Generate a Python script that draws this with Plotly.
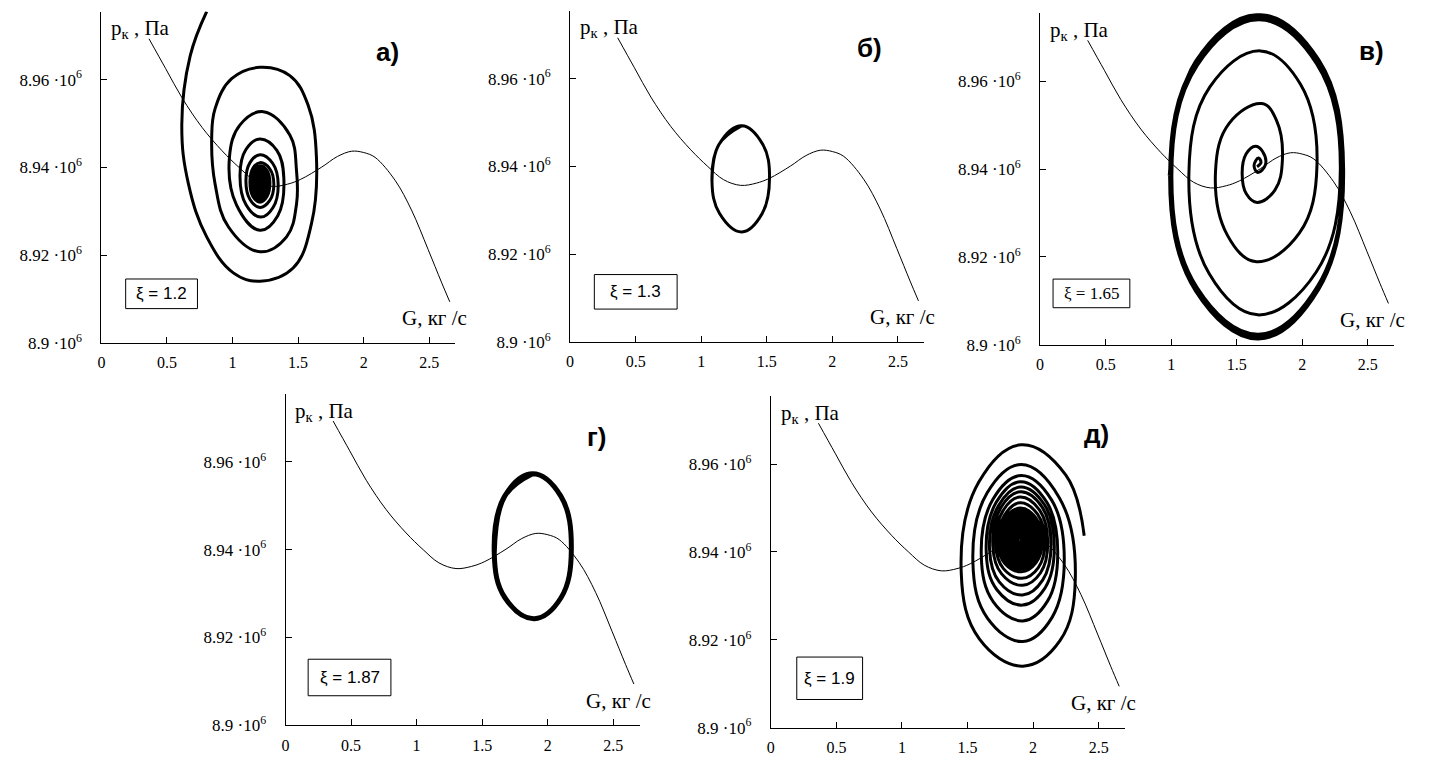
import plotly.graph_objects as go

# ---------------- data ----------------
# static characteristic p_k(G), identical in all five panels
G_CURVE = [0.363, 0.490, 0.616, 0.768, 0.920, 1.050, 1.170, 1.300, 1.420, 1.520, 1.681,
           1.800, 1.909, 2.000, 2.087, 2.239, 2.365, 2.492, 2.593, 2.657]
P_CURVE = [8.9693e6, 8.9625e6, 8.9558e6, 8.9491e6, 8.9438e6, 8.9400e6, 8.9370e6, 8.9357e6,
           8.9362e6, 8.9373e6, 8.9401e6, 8.9425e6, 8.9437e6, 8.9434e6, 8.9423e6, 8.9371e6,
           8.9303e6, 8.9213e6, 8.9139e6, 8.9094e6]

# phase trajectories, (G, p_k) points
# а) xi = 1.2 : converging spiral
A_PTS = [(0.803, 8.9755e6), (0.677, 8.9654e6), (0.613, 8.9497e6), (0.664, 8.9362e6),
         (0.803, 8.9242e6), (1.006, 8.9160e6), (1.209, 8.9141e6), (1.462, 8.9171e6),
         (1.602, 8.9272e6), (1.640, 8.9422e6), (1.576, 8.9542e6), (1.437, 8.9609e6),
         (1.209, 8.9628e6), (0.993, 8.9602e6), (0.867, 8.9534e6), (0.841, 8.9467e6),
         (0.867, 8.9362e6), (0.968, 8.9265e6), (1.209, 8.9208e6), (1.412, 8.9242e6),
         (1.488, 8.9317e6), (1.488, 8.9392e6), (1.437, 8.9474e6),
         (1.234, 8.9527e6), (1.057, 8.9497e6), (0.976, 8.9422e6), (1.030, 8.9315e6),
         (1.209, 8.9257e6), (1.345, 8.9290e6), (1.391, 8.9377e6), (1.338, 8.9439e6),
         (1.209, 8.9465e6), (1.102, 8.9441e6), (1.057, 8.9384e6), (1.103, 8.9315e6),
         (1.214, 8.9287e6), (1.309, 8.9309e6), (1.348, 8.9362e6), (1.307, 8.9409e6),
         (1.209, 8.9429e6), (1.133, 8.9411e6), (1.102, 8.9369e6), (1.133, 8.9327e6),
         (1.209, 8.9309e6), (1.284, 8.9325e6), (1.315, 8.9362e6), (1.284, 8.9397e6),
         (1.209, 8.9411e6), (1.155, 8.9398e6), (1.133, 8.9368e6), (1.155, 8.9334e6),
         (1.209, 8.9321e6), (1.263, 8.9334e6), (1.285, 8.9366e6), (1.263, 8.9393e6),
         (1.209, 8.9404e6), (1.164, 8.9393e6), (1.145, 8.9367e6), (1.164, 8.9339e6),
         (1.209, 8.9327e6), (1.256, 8.9338e6), (1.275, 8.9366e6), (1.256, 8.9389e6),
         (1.209, 8.9398e6), (1.172, 8.9389e6), (1.157, 8.9367e6), (1.172, 8.9342e6),
         (1.209, 8.9332e6), (1.249, 8.9342e6), (1.265, 8.9366e6), (1.249, 8.9385e6),
         (1.209, 8.9393e6), (1.180, 8.9385e6), (1.168, 8.9366e6), (1.180, 8.9345e6),
         (1.209, 8.9337e6), (1.242, 8.9345e6), (1.255, 8.9366e6), (1.242, 8.9382e6),
         (1.209, 8.9388e6), (1.187, 8.9382e6), (1.178, 8.9366e6), (1.187, 8.9349e6),
         (1.209, 8.9342e6), (1.234, 8.9349e6), (1.245, 8.9366e6), (1.234, 8.9378e6),
         (1.209, 8.9383e6), (1.188, 8.9366e6), (1.209, 8.9347e6), (1.235, 8.9366e6),
         (1.209, 8.9378e6), (1.197, 8.9366e6), (1.209, 8.9352e6), (1.225, 8.9366e6),
         (1.209, 8.9373e6), (1.203, 8.9366e6), (1.209, 8.9358e6), (1.215, 8.9366e6),
         (1.209, 8.9366e6)]

# б) xi = 1.3 : small limit cycle
B_PTS = [(1.310, 8.9493e6), (1.135, 8.9450e6), (1.082, 8.9367e6), (1.140, 8.9293e6),
         (1.310, 8.9251e6), (1.465, 8.9293e6), (1.521, 8.9375e6), (1.470, 8.9450e6),
         (1.310, 8.9493e6), (1.135, 8.9450e6), (1.082, 8.9367e6)]

# в) xi = 1.65 : diverging spiral onto a large cycle
C_PTS = [(1.655, 8.9405e6), (1.685, 8.9415e6), (1.665, 8.9425e6), (1.632, 8.9408e6),
         (1.660, 8.9392e6), (1.719, 8.9410e6), (1.697, 8.9440e6),
         (1.643, 8.9452e6), (1.571, 8.9434e6), (1.541, 8.9390e6), (1.574, 8.9343e6),
         (1.655, 8.9324e6), (1.791, 8.9352e6), (1.848, 8.9420e6), (1.803, 8.9511e6),
         (1.693, 8.9549e6), (1.442, 8.9504e6), (1.338, 8.9395e6), (1.429, 8.9249e6),
         (1.650, 8.9189e6), (1.977, 8.9254e6), (2.112, 8.9410e6), (1.986, 8.9593e6),
         (1.681, 8.9669e6), (1.295, 8.9587e6), (1.135, 8.9390e6), (1.289, 8.9162e6),
         (1.660, 8.9068e6), (2.105, 8.9165e6), (2.290, 8.9400e6), (2.108, 8.9640e6),
         (1.668, 8.9740e6), (1.199, 8.9636e6), (1.005, 8.9385e6), (1.198, 8.9130e6),
         (1.665, 8.9024e6), (2.117, 8.9134e6), (2.305, 8.9400e6), (2.118, 8.9645e6),
         (1.668, 8.9746e6), (1.191, 8.9640e6), (0.993, 8.9385e6), (1.190, 8.9126e6),
         (1.665, 8.9018e6), (2.122, 8.9130e6), (2.312, 8.9400e6), (2.123, 8.9647e6),
         (1.668, 8.9750e6), (1.187, 8.9643e6), (0.988, 8.9385e6), (1.186, 8.9122e6),
         (1.665, 8.9013e6), (2.125, 8.9126e6), (2.315, 8.9400e6), (2.125, 8.9649e6),
         (1.668, 8.9752e6), (1.185, 8.9645e6), (0.985, 8.9385e6)]

# г) xi = 1.87 : limit cycle around the maximum
D_PTS = [(1.884, 8.9573e6), (1.672, 8.9522e6), (1.592, 8.9393e6), (1.675, 8.9290e6),
         (1.897, 8.9243e6), (2.100, 8.9290e6), (2.180, 8.9401e6), (2.100, 8.9522e6),
         (1.884, 8.9573e6), (1.672, 8.9522e6), (1.592, 8.9393e6)]

# д) xi = 1.9 : converging spiral
E_PTS = [(2.390, 8.9437e6), (2.250, 8.9575e6),
         (1.909, 8.9644e6), (1.586, 8.9559e6), (1.452, 8.9353e6), (1.590, 8.9202e6),
         (1.922, 8.9140e6), (2.205, 8.9198e6), (2.322, 8.9338e6), (2.201, 8.9523e6),
         (1.909, 8.9599e6), (1.649, 8.9534e6), (1.541, 8.9376e6), (1.653, 8.9249e6),
         (1.922, 8.9196e6), (2.145, 8.9251e6), (2.238, 8.9383e6), (2.142, 8.9518e6),
         (1.909, 8.9574e6), (1.694, 8.9520e6), (1.605, 8.9391e6), (1.698, 8.9286e6),
         (1.922, 8.9243e6), (2.110, 8.9288e6), (2.188, 8.9398e6), (2.105, 8.9513e6),
         (1.904, 8.9560e6), (1.719, 8.9513e6), (1.643, 8.9398e6), (1.724, 8.9314e6),
         (1.920, 8.9279e6), (2.091, 8.9318e6), (2.162, 8.9413e6), (2.086, 8.9508e6),
         (1.904, 8.9548e6), (1.737, 8.9506e6), (1.668, 8.9406e6), (1.742, 8.9332e6),
         (1.920, 8.9302e6), (2.073, 8.9336e6), (2.137, 8.9417e6), (2.069, 8.9502e6),
         (1.904, 8.9537e6), (1.755, 8.9501e6), (1.693, 8.9413e6), (1.760, 8.9350e6),
         (1.920, 8.9324e6), (2.056, 8.9352e6), (2.112, 8.9421e6), (2.050, 8.9495e6),
         (1.900, 8.9525e6), (1.769, 8.9493e6), (1.715, 8.9416e6), (1.774, 8.9362e6),
         (1.915, 8.9340e6), (2.039, 8.9364e6), (2.090, 8.9423e6), (2.034, 8.9486e6),
         (1.900, 8.9512e6), (1.783, 8.9484e6), (1.735, 8.9418e6), (1.786, 8.9373e6),
         (1.910, 8.9355e6), (2.023, 8.9376e6), (2.070, 8.9425e6), (2.020, 8.9478e6),
         (1.900, 8.9500e6), (1.790, 8.9477e6), (1.745, 8.9420e6), (1.792, 8.9379e6),
         (1.905, 8.9362e6), (2.015, 8.9381e6), (2.060, 8.9426e6), (2.013, 8.9474e6),
         (1.900, 8.9494e6), (1.797, 8.9473e6), (1.755, 8.9421e6), (1.799, 8.9384e6),
         (1.905, 8.9368e6), (2.008, 8.9385e6), (2.050, 8.9426e6), (2.006, 8.9470e6),
         (1.900, 8.9488e6), (1.805, 8.9469e6), (1.765, 8.9422e6), (1.805, 8.9388e6),
         (1.902, 8.9374e6), (2.000, 8.9390e6), (2.040, 8.9427e6), (1.999, 8.9466e6),
         (1.900, 8.9482e6), (1.812, 8.9464e6), (1.775, 8.9422e6), (1.812, 8.9392e6),
         (1.902, 8.9380e6), (1.992, 8.9394e6), (2.030, 8.9427e6), (1.992, 8.9462e6),
         (1.900, 8.9476e6), (1.819, 8.9460e6), (1.785, 8.9423e6), (1.819, 8.9396e6),
         (1.900, 8.9385e6), (1.985, 8.9397e6), (2.020, 8.9427e6), (1.985, 8.9457e6),
         (1.900, 8.9470e6), (1.826, 8.9457e6), (1.795, 8.9424e6), (1.826, 8.9400e6),
         (1.900, 8.9390e6), (1.978, 8.9401e6), (2.010, 8.9428e6), (1.978, 8.9454e6),
         (1.900, 8.9465e6), (1.833, 8.9453e6), (1.805, 8.9424e6), (1.833, 8.9403e6),
         (1.900, 8.9394e6), (1.971, 8.9404e6), (2.000, 8.9428e6), (1.971, 8.9451e6),
         (1.900, 8.9460e6), (1.840, 8.9450e6), (1.815, 8.9425e6), (1.840, 8.9406e6),
         (1.900, 8.9398e6), (1.964, 8.9407e6), (1.990, 8.9428e6), (1.964, 8.9447e6),
         (1.900, 8.9455e6), (1.847, 8.9446e6), (1.825, 8.9425e6), (1.847, 8.9409e6),
         (1.900, 8.9402e6), (1.957, 8.9410e6), (1.980, 8.9428e6), (1.957, 8.9444e6),
         (1.900, 8.9450e6), (1.854, 8.9443e6), (1.835, 8.9426e6), (1.854, 8.9412e6),
         (1.900, 8.9406e6), (1.949, 8.9412e6), (1.970, 8.9428e6), (1.949, 8.9441e6),
         (1.900, 8.9446e6), (1.861, 8.9440e6), (1.845, 8.9426e6), (1.861, 8.9415e6),
         (1.900, 8.9410e6), (1.942, 8.9415e6), (1.960, 8.9428e6), (1.942, 8.9438e6),
         (1.900, 8.9442e6), (1.868, 8.9438e6), (1.855, 8.9427e6), (1.868, 8.9417e6),
         (1.900, 8.9413e6), (1.935, 8.9417e6), (1.950, 8.9428e6), (1.935, 8.9436e6),
         (1.900, 8.9439e6), (1.865, 8.9427e6), (1.900, 8.9416e6), (1.940, 8.9428e6),
         (1.900, 8.9436e6), (1.875, 8.9427e6), (1.900, 8.9419e6), (1.930, 8.9428e6),
         (1.900, 8.9433e6), (1.885, 8.9428e6), (1.900, 8.9422e6), (1.920, 8.9428e6),
         (1.900, 8.9431e6), (1.892, 8.9428e6), (1.900, 8.9425e6), (1.908, 8.9428e6),
         (1.900, 8.9428e6)]

XI_VALUES = ["1.2", "1.3", "1.65", "1.87", "1.9"]
PANEL_LETTERS = ["а)", "б)", "в)", "г)", "д)"]
X_TICKS = [0, 0.5, 1, 1.5, 2, 2.5]
X_TICK_TEXT = ["0", "0.5", "1", "1.5", "2", "2.5"]
Y_TICKS = [8.90e6, 8.92e6, 8.94e6, 8.96e6]
Y_TICK_TEXT = ["8.9 ·10<sup>6</sup>", "8.92 ·10<sup>6</sup>",
               "8.94 ·10<sup>6</sup>", "8.96 ·10<sup>6</sup>"]
Y_LABEL = "p<sub>к</sub> , Па"
X_LABEL = "G, кг /с"

TRAJECTORIES = [A_PTS, B_PTS, C_PTS, D_PTS, E_PTS]

# ---------------- layout (pixels) ----------------
W, H = 1429, 762
PLOT_W, PLOT_H = 355, 336
X_RANGE = [0, 2.7]
Y_RANGE = [8.9e6, 8.9755e6]
PANEL_POS = [(97.7, 347.7), (567.7, 346.7), (1039.0, 349.3), (282.3, 735.0), (769.0, 737.3)]
LETTER_OFF = [(273, 295), (286, 298), (318, 298), (300, 292.5), (312, 298)]
BOX_GEOM = [(24.3, 96.3, 50, 30), (24.3, 107.3, 51, 35), (13, 90, 52, 29),
            (22.7, 105.7, 48.5, 37), (26, 92, 50, 43)]
SERIF = "Liberation Serif, Times New Roman, serif"
SANS = "Liberation Sans, Arial, sans-serif"
BOX_FONT = [SANS, SANS, SERIF, SANS, SANS]
TRAJ_WIDTH = [3, 3, 3, 5, 3]


def px(x):
    return x / W


def py(y):
    return 1 - y / H


fig = go.Figure()
layout = dict(width=W, height=H, margin=dict(l=0, r=0, t=0, b=0),
              paper_bgcolor="white", plot_bgcolor="white", showlegend=False)
annotations = []
shapes = []

for i in range(5):
    sfx = "" if i == 0 else str(i + 1)
    x0, yb = PANEL_POS[i]
    layout["xaxis" + sfx] = dict(
        domain=[px(x0), px(x0 + PLOT_W)], range=X_RANGE, anchor="y" + sfx,
        tickvals=X_TICKS, ticktext=X_TICK_TEXT, ticks="inside", ticklen=6,
        tickcolor="black", showline=True, linecolor="black", linewidth=1,
        showgrid=False, zeroline=False, ticklabelstandoff=5,
        tickfont=dict(family=SERIF, size=16, color="black"))
    layout["yaxis" + sfx] = dict(
        domain=[py(yb), py(yb - PLOT_H)], range=Y_RANGE, anchor="x" + sfx,
        tickvals=Y_TICKS, ticktext=Y_TICK_TEXT, ticks="inside", ticklen=6,
        tickcolor="black", showline=True, linecolor="black", linewidth=1,
        showgrid=False, zeroline=False, ticklabelstandoff=15,
        tickfont=dict(family=SERIF, size=17, color="black"))

    pts = TRAJECTORIES[i]
    fig.add_trace(go.Scatter(
        x=[p[0] for p in pts], y=[p[1] for p in pts], mode="lines",
        xaxis="x" + sfx, yaxis="y" + sfx,
        line=dict(color="black", width=TRAJ_WIDTH[i], shape="spline", smoothing=1.15),
        hoverinfo="skip"))
    fig.add_trace(go.Scatter(
        x=G_CURVE, y=P_CURVE, mode="lines", xaxis="x" + sfx, yaxis="y" + sfx,
        line=dict(color="black", width=1, shape="spline", smoothing=1.0),
        hoverinfo="skip"))

    # axis captions
    annotations.append(dict(xref="paper", yref="paper", x=px(x0 + 8), y=py(yb - 318),
                            xanchor="left", yanchor="middle", showarrow=False,
                            text=Y_LABEL, font=dict(family=SERIF, size=21, color="black")))
    annotations.append(dict(xref="paper", yref="paper", x=px(x0 + 299), y=py(yb - 25),
                            xanchor="left", yanchor="middle", showarrow=False,
                            text=X_LABEL, font=dict(family=SERIF, size=21, color="black")))
    # panel letter
    ldx, ldy = LETTER_OFF[i]
    annotations.append(dict(xref="paper", yref="paper", x=px(x0 + ldx), y=py(yb - ldy),
                            xanchor="left", yanchor="middle", showarrow=False,
                            text="<b>" + PANEL_LETTERS[i] + "</b>",
                            font=dict(family=SANS, size=26, color="black")))
    # xi box
    b0, b1, bup, bh = BOX_GEOM[i]
    shapes.append(dict(type="rect", xref="paper", yref="paper",
                       x0=px(x0 + b0), x1=px(x0 + b1),
                       y0=py(yb - bup + bh / 2), y1=py(yb - bup - bh / 2),
                       line=dict(color="black", width=1), fillcolor="white", layer="above"))
    annotations.append(dict(xref="paper", yref="paper", x=px(x0 + (b0 + b1) / 2),
                            y=py(yb - bup), xanchor="center", yanchor="middle",
                            showarrow=False, text="ξ = " + XI_VALUES[i],
                            font=dict(family=BOX_FONT[i], size=17, color="black")))

layout["annotations"] = annotations
layout["shapes"] = shapes
fig.update_layout(**layout)

fig.write_html("out.html", config={"displayModeBar": False},
               post_script="document.body.style.margin='0';document.body.style.overflow='hidden';")
